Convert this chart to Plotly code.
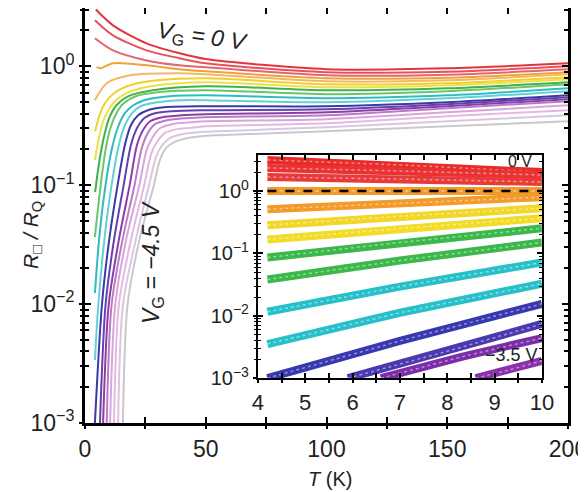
import plotly.graph_objects as go

FONT = "Liberation Sans, Arial, sans-serif"

# ---------------- main panel data: R/RQ vs T (K), one curve per gate voltage ----------------
gate_voltages = ["0", "-0.25", "-0.5", "-0.75", "-1.0", "-1.25", "-1.5", "-1.75", "-2.0", "-2.25",
                 "-2.5", "-2.75", "-3.0", "-3.25", "-3.5", "-3.75", "-4.0", "-4.25", "-4.5"]

T_m000 = [4.5, 11.6, 25.5, 39, 50, 100, 150, 200]
R_m000 = [3.0, 2.21, 1.56, 1.29, 1.15, 0.944, 0.96, 1.06]
T_m025 = [4.1, 11.6, 25.5, 39, 50, 100, 150, 200]
R_m025 = [2.44, 1.82, 1.36, 1.17, 1.06, 0.891, 0.90, 1.0]
T_m050 = [4.1, 11.6, 25.5, 39, 50, 100, 150, 200]
R_m050 = [1.72, 1.36, 1.12, 1.02, 0.982, 0.839, 0.85, 0.944]
T_m075 = [4.8, 6.5, 11.6, 25.5, 39, 50, 100, 150, 200]
R_m075 = [0.982, 0.962, 1.06, 1.02, 0.944, 0.908, 0.793, 0.80, 0.891]
T_m100 = [4.1, 9, 18.6, 39, 50, 100, 150, 200]
R_m100 = [0.518, 0.720, 0.839, 0.873, 0.857, 0.748, 0.762, 0.857]
T_m125 = [4.2, 6, 8, 12, 18.6, 30, 50, 100, 150, 200]
R_m125 = [0.284, 0.387, 0.480, 0.593, 0.692, 0.762, 0.793, 0.706, 0.720, 0.809]
T_m150 = [4.1, 6, 8, 12, 18, 30, 50, 100, 150, 200]
R_m150 = [0.162, 0.263, 0.366, 0.498, 0.605, 0.692, 0.734, 0.667, 0.692, 0.778]
T_m175 = [4.2, 6, 8, 10, 13, 18, 28, 50, 100, 150, 200]
R_m175 = [0.0873, 0.162, 0.263, 0.366, 0.470, 0.560, 0.628, 0.679, 0.628, 0.653, 0.734]
T_m200 = [4.1, 6.5, 8.5, 10.5, 13, 16, 21, 30, 50, 100, 150, 200]
R_m200 = [0.0366, 0.1, 0.197, 0.301, 0.403, 0.489, 0.560, 0.605, 0.628, 0.582, 0.617, 0.706]
T_m225 = [4.1, 6, 8.5, 11, 13.5, 16.5, 20, 26, 35, 50, 100, 150, 200]
R_m225 = [0.0124, 0.038, 0.1, 0.197, 0.301, 0.403, 0.470, 0.528, 0.560, 0.570, 0.538, 0.570, 0.653]
T_m250 = [4.1, 5.5, 8, 11, 14, 16.5, 19.5, 23, 30, 40, 50, 100, 150, 200]
R_m250 = [0.00338, 0.00981, 0.0345, 0.1, 0.217, 0.319, 0.403, 0.461, 0.498, 0.518, 0.518, 0.498, 0.538, 0.617]
T_m275 = [4.1, 7, 10, 13.5, 16.5, 19, 22, 26, 33, 50, 100, 150, 200]
R_m275 = [0.001, 0.00981, 0.0345, 0.1, 0.217, 0.319, 0.387, 0.427, 0.452, 0.461, 0.461, 0.498, 0.570]
T_m300 = [6.2, 8.5, 12, 16, 19, 21.5, 24.5, 29, 36, 50, 100, 150, 200]
R_m300 = [0.001, 0.00981, 0.0345, 0.1, 0.217, 0.301, 0.366, 0.403, 0.419, 0.427, 0.435, 0.480, 0.548]
T_m325 = [7.5, 9.8, 14, 18.5, 21.5, 24, 27, 32, 40, 50, 100, 150, 200]
R_m325 = [0.001, 0.00981, 0.0345, 0.1, 0.217, 0.290, 0.345, 0.373, 0.387, 0.395, 0.410, 0.461, 0.528]
T_m350 = [9, 11, 15.5, 20.5, 23.5, 26, 29, 34, 42, 50, 100, 150, 200]
R_m350 = [0.001, 0.00981, 0.0345, 0.1, 0.205, 0.274, 0.326, 0.352, 0.366, 0.373, 0.387, 0.444, 0.508]
T_m375 = [10.4, 12.5, 17, 22.5, 25.5, 28, 31, 36, 44, 50, 100, 150, 200]
R_m375 = [0.001, 0.00981, 0.0345, 0.1, 0.197, 0.253, 0.301, 0.326, 0.338, 0.345, 0.359, 0.410, 0.470]
T_m400 = [12, 14, 19, 24.5, 27.5, 30, 33, 38, 46, 50, 100, 150, 200]
R_m400 = [0.001, 0.00981, 0.0345, 0.1, 0.186, 0.234, 0.274, 0.296, 0.307, 0.313, 0.332, 0.380, 0.427]
T_m425 = [13.7, 15.7, 21, 26.5, 29.5, 32, 35, 40, 47, 55, 100, 150, 200]
R_m425 = [0.001, 0.00981, 0.0345, 0.1, 0.175, 0.217, 0.248, 0.268, 0.279, 0.284, 0.307, 0.345, 0.387]
T_m450 = [15.7, 17.6, 22.5, 28.5, 31, 33.5, 37, 42, 48, 55, 100, 150, 200]
R_m450 = [0.001, 0.00981, 0.0345, 0.1, 0.162, 0.205, 0.230, 0.248, 0.258, 0.263, 0.284, 0.313, 0.345]

main_T = [T_m000, T_m025, T_m050, T_m075, T_m100, T_m125, T_m150, T_m175, T_m200, T_m225,
          T_m250, T_m275, T_m300, T_m325, T_m350, T_m375, T_m400, T_m425, T_m450]
main_R = [R_m000, R_m025, R_m050, R_m075, R_m100, R_m125, R_m150, R_m175, R_m200, R_m225,
          R_m250, R_m275, R_m300, R_m325, R_m350, R_m375, R_m400, R_m425, R_m450]
main_colors = ["#e3343c", "#e8505a", "#e46470", "#f0a23a", "#f4b860", "#f3cf2a", "#eee04a",
               "#3fb24a", "#6cc566", "#2fbcc0", "#62d0d6", "#3a3aa8", "#6441ad", "#8e3ca8",
               "#b77cc4", "#d7a6dc", "#e6b8df", "#d9c6e3", "#c9c9c9"]

# ---------------- inset data: 4-10 K ----------------
in_T_red0 = [4.2, 7, 10];   in_R_red0 = [3.16, 2.63, 2.02]
in_T_red1 = [4.2, 7, 10];   in_R_red1 = [2.35, 2.10, 1.81]
in_T_red2 = [4.2, 7, 10];   in_R_red2 = [1.68, 1.56, 1.40]
in_T_or0 = [4.2, 7, 10];    in_R_or0 = [1.0, 1.0, 1.0]
in_T_or1 = [4.2, 7, 10];    in_R_or1 = [0.513, 0.640, 0.800]
in_T_ye0 = [4.2, 7, 10];    in_R_ye0 = [0.283, 0.395, 0.532]
in_T_ye1 = [4.2, 7, 10];    in_R_ye1 = [0.168, 0.253, 0.367]
in_T_gr0 = [4.2, 7, 10];    in_R_gr0 = [0.0861, 0.150, 0.253]
in_T_gr1 = [4.2, 7, 10];    in_R_gr1 = [0.0381, 0.0771, 0.150]
in_T_cy0 = [4.2, 7, 10];    in_R_cy0 = [0.0116, 0.0294, 0.0716]
in_T_cy1 = [4.2, 7, 10];    in_R_cy1 = [0.00353, 0.0112, 0.0328]
in_T_bl0 = [4.2, 7, 10];    in_R_bl0 = [0.00100, 0.00395, 0.0156]
in_T_bl1 = [5.9, 8, 10];    in_R_bl1 = [0.001, 0.0027, 0.0074]
in_T_pu0 = [6.6, 8.3, 10];  in_R_pu0 = [0.001, 0.0022, 0.0044]
in_T_pu1 = [8.6, 9.3, 10];  in_R_pu1 = [0.001, 0.00135, 0.0019]
inset_T = [in_T_red0, in_T_red1, in_T_red2, in_T_or0, in_T_or1, in_T_ye0, in_T_ye1, in_T_gr0,
           in_T_gr1, in_T_cy0, in_T_cy1, in_T_bl0, in_T_bl1, in_T_pu0, in_T_pu1]
inset_R = [in_R_red0, in_R_red1, in_R_red2, in_R_or0, in_R_or1, in_R_ye0, in_R_ye1, in_R_gr0,
           in_R_gr1, in_R_cy0, in_R_cy1, in_R_bl0, in_R_bl1, in_R_pu0, in_R_pu1]
inset_colors = ["#e82a2a", "#ea3232", "#e83a3a", "#f39a2a", "#f39a2a", "#f2d628", "#f2dc28",
                "#3cb84a", "#3cb84a", "#28c0c8", "#28c0c8", "#3838b0", "#4a3ab0", "#7a2fa8", "#8a30a8"]
dash_T = [4.2, 10]
dash_R = [1.0, 1.0]

main_xticks = [0, 50, 100, 150, 200]
main_xminor = [25, 75, 125, 175]
y_ticks = [1e-3, 1e-2, 1e-1, 1]
y_ticktext = ["10<sup>−3</sup>", "10<sup>−2</sup>", "10<sup>−1</sup>", "10<sup>0</sup>"]
y_minor = [k * 10.0 ** n for n in (-3, -2, -1, 0) for k in range(2, 10)]
inset_xticks = [4, 5, 6, 7, 8, 9, 10]
inset_xminor = [4.5, 5.5, 6.5, 7.5, 8.5, 9.5]

fig = go.Figure()

for T, R, c in zip(main_T, main_R, main_colors):
    fig.add_trace(go.Scatter(x=T, y=R, mode="lines", line=dict(color=c, width=2, shape="spline", smoothing=0.8),
                             xaxis="x", yaxis="y", showlegend=False, hoverinfo="skip"))

for T, R, c in zip(inset_T, inset_R, inset_colors):
    fig.add_trace(go.Scatter(x=T, y=R, mode="lines", line=dict(color=c, width=8),
                             xaxis="x2", yaxis="y2", showlegend=False, hoverinfo="skip"))
    # faint dotted texture of the dense open-circle markers
    fig.add_trace(go.Scatter(x=T, y=R, mode="lines",
                             line=dict(color="rgba(255,255,255,0.45)", width=1.5, dash="dot"),
                             xaxis="x2", yaxis="y2", showlegend=False, hoverinfo="skip"))
fig.add_trace(go.Scatter(x=dash_T, y=dash_R, mode="lines", line=dict(color="black", width=2.5, dash="dash"),
                         xaxis="x2", yaxis="y2", showlegend=False, hoverinfo="skip"))

# dummy traces so overlay axes (outer half of crossing ticks + labels) are drawn
fig.add_trace(go.Scatter(x=[None], y=[None], xaxis="x3", yaxis="y3", showlegend=False, hoverinfo="skip"))
fig.add_trace(go.Scatter(x=[None], y=[None], xaxis="x4", yaxis="y4", showlegend=False, hoverinfo="skip"))

ax_common = dict(showgrid=False, zeroline=False, linecolor="black", tickcolor="black", automargin=False)

# page body adds an 8 px offset, so the figure is 8 px smaller and margins shifted accordingly
fig.update_layout(
    width=578, height=484,
    margin=dict(l=77, r=18, t=0, b=69, autoexpand=False),
    paper_bgcolor="white", plot_bgcolor="rgba(0,0,0,0)",
    font=dict(family=FONT, color="#222222", size=22),
    xaxis=dict(domain=[0, 1], range=[0, 200], anchor="y", showline=True, linewidth=2.5, mirror="ticks",
               ticks="inside", ticklen=6, tickwidth=2, tickvals=main_xticks, showticklabels=False,
               minor=dict(tickvals=main_xminor, ticks="inside", ticklen=6, tickwidth=2, tickcolor="black"),
               **ax_common),
    yaxis=dict(domain=[0, 1], type="log", range=[-3, 0.49], anchor="x", showline=True, linewidth=2.5,
               mirror="ticks", ticks="inside", ticklen=6, tickwidth=2, tickvals=y_ticks, showticklabels=False,
               minor=dict(tickvals=y_minor, ticks="inside", ticklen=4, tickwidth=1.5, tickcolor="black"),
               **ax_common),
    xaxis3=dict(overlaying="x", anchor="y", side="bottom", range=[0, 200], showline=False,
                ticks="outside", ticklen=5, tickwidth=2, tickvals=main_xticks, ticklabeloverflow="allow",
                tickfont=dict(size=23, family=FONT, color="#222222"),
                minor=dict(tickvals=main_xminor, ticks="outside", ticklen=5, tickwidth=2, tickcolor="black"),
                **ax_common),
    yaxis3=dict(overlaying="y", anchor="x", side="left", type="log", range=[-3, 0.49], showline=False,
                ticks="outside", ticklen=5, tickwidth=2, tickvals=y_ticks, ticktext=y_ticktext,
                tickfont=dict(size=23, family=FONT, color="#222222"),
                minor=dict(tickvals=y_minor, ticks="outside", ticklen=4, tickwidth=1.5, tickcolor="black"),
                **ax_common),
    xaxis2=dict(domain=[0.358, 0.946], range=[4, 10], anchor="y2", showline=True, linewidth=2, mirror="ticks",
                ticks="inside", ticklen=5, tickwidth=1.5, tickvals=inset_xticks, showticklabels=False,
                minor=dict(tickvals=inset_xminor, ticks="inside", ticklen=5, tickwidth=1.5, tickcolor="black"),
                **ax_common),
    yaxis2=dict(domain=[0.108, 0.646], type="log", range=[-3, 0.58], anchor="x2", showline=True, linewidth=2,
                mirror="ticks", ticks="inside", ticklen=5, tickwidth=1.5, tickvals=y_ticks, showticklabels=False,
                minor=dict(tickvals=y_minor, ticks="inside", ticklen=3, tickwidth=1.2, tickcolor="black"),
                **ax_common),
    xaxis4=dict(overlaying="x2", anchor="y2", side="bottom", range=[4, 10], showline=False,
                ticks="outside", ticklen=4, tickwidth=1.5, tickvals=inset_xticks,
                tickfont=dict(size=22, family=FONT, color="#222222"),
                minor=dict(tickvals=inset_xminor, ticks="outside", ticklen=4, tickwidth=1.5, tickcolor="black"),
                **ax_common),
    yaxis4=dict(overlaying="y2", anchor="x2", side="left", type="log", range=[-3, 0.58], showline=False,
                ticks="outside", ticklen=4, tickwidth=1.5, tickvals=y_ticks, ticktext=y_ticktext,
                tickfont=dict(size=20, family=FONT, color="#222222"),
                minor=dict(tickvals=y_minor, ticks="outside", ticklen=3, tickwidth=1.2, tickcolor="black"),
                **ax_common),
)

annos = [
    dict(text="<i>V</i><sub>G</sub><i> = 0 V</i>", x=0.244, y=0.930, textangle=8, size=23),
    dict(text="<i>V</i><sub>G</sub><i> = −4.5 V</i>", x=0.141, y=0.388, textangle=-90, size=23),
    dict(text="<i>R</i><sub>□</sub><i> / R</i><sub>Q</sub>", x=-0.110, y=0.453, textangle=-90, size=21),
    dict(text="<i>T</i> (K)", x=0.507, y=-0.135, textangle=0, size=20),
    dict(text="0 V", x=0.90, y=0.629, textangle=0, size=16),
    dict(text="−3.5 V", x=0.884, y=0.164, textangle=0, size=18),
]
for a in annos:
    fig.add_annotation(text=a["text"], x=a["x"], y=a["y"], xref="paper", yref="paper",
                       xanchor="center", yanchor="middle", showarrow=False, textangle=a["textangle"],
                       font=dict(family=FONT, size=a["size"], color="#222222"))

fig.write_html("out.html")
